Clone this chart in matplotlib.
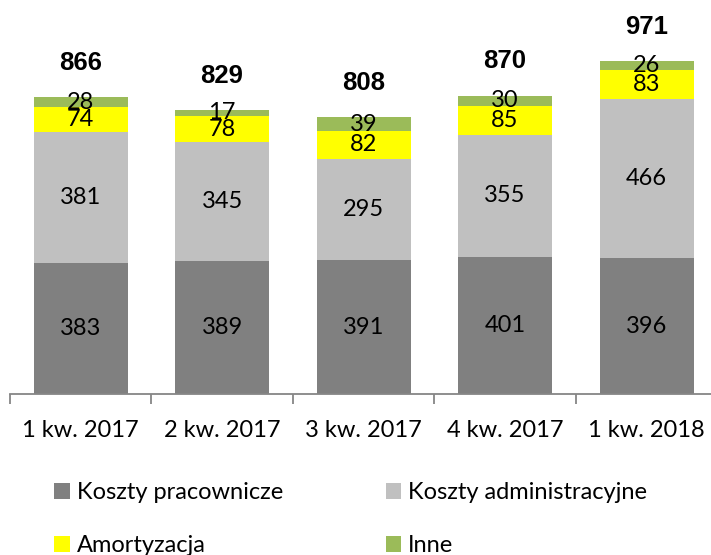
import matplotlib.pyplot as plt
from matplotlib.patches import Patch
import numpy as np

# Data
quarters = ["1 kw. 2017", "2 kw. 2017", "3 kw. 2017", "4 kw. 2017", "1 kw. 2018"]
pracownicze = [383, 389, 391, 401, 396]
administracyjne = [381, 345, 295, 355, 466]
amortyzacja = [74, 78, 82, 85, 83]
inne = [28, 17, 39, 30, 26]
totals = [866, 829, 808, 870, 971]

series = [
    ("Koszty pracownicze", pracownicze, "#808080"),
    ("Koszty administracyjne", administracyjne, "#C0C0C0"),
    ("Amortyzacja", amortyzacja, "#FFFF00"),
    ("Inne", inne, "#9BBB59"),
]

plt.rcParams['font.family'] = ['Lato', 'DejaVu Sans']

fig = plt.figure(figsize=(7.11, 5.55), dpi=100)
ax = fig.add_axes([9.8 / 711, 1 - 394 / 555, 707.5 / 711, 342.7 / 555])

x = np.arange(len(quarters))
bottom = np.zeros(len(quarters))
for name, vals, color in series:
    vals = np.array(vals)
    ax.bar(x, vals, 0.665, bottom=bottom, color=color, label=name)
    for xi, b, v in zip(x, bottom, vals):
        ax.text(xi, b + v / 2, str(v), ha="center", va="center", fontsize=17, color="black")
    bottom += vals

for xi, top, t in zip(x, bottom, totals):
    ax.annotate(str(t), (xi, top), xytext=(0, 24.5), textcoords="offset points",
                ha="center", va="center", fontsize=18.5, fontweight="bold",
                family="Liberation Sans")

ax.set_xlim(-0.5, 4.5)
ax.set_ylim(0, 1000)
ax.set_yticks([])
for s in ["top", "right", "left"]:
    ax.spines[s].set_visible(False)
ax.spines["bottom"].set_color("#868686")
ax.spines["bottom"].set_linewidth(1.3)

ax.set_xticks(x)
ax.set_xticklabels(quarters, fontsize=17)
ax.tick_params(axis="x", which="major", length=0, pad=19)
ax.set_xticks(np.arange(-0.5, 5, 1), minor=True)
ax.tick_params(axis="x", which="minor", length=7, color="#868686", width=1.3)

# legend order: column-major -> pracownicze, amortyzacja | administracyjne, inne
order = [0, 2, 1, 3]
handles = [Patch(facecolor=series[i][2], edgecolor="none", label=series[i][0]) for i in order]
fig.legend(handles=handles, ncol=2, loc="upper left", bbox_to_anchor=(45 / 711, 1 - 473 / 555),
           frameon=False, fontsize=17, handlelength=0.65, handleheight=0.65, handletextpad=0.3,
           labelspacing=1.35, columnspacing=4.35, borderaxespad=0)

plt.savefig("out.png", dpi=100)
